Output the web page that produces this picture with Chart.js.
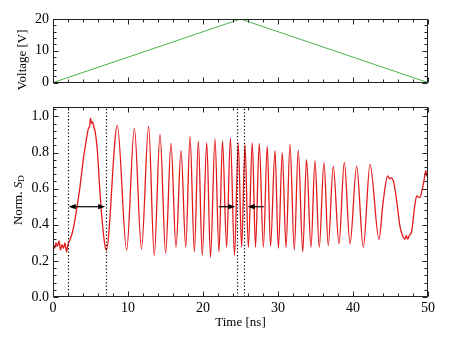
<!DOCTYPE html>
<html>
<head>
<meta charset="utf-8">
<script src="https://cdn.jsdelivr.net/npm/chart.js@4.4.1/dist/chart.umd.min.js"></script>
<style>
  body { margin: 0; background: #fff; }
  #wrap { position: relative; width: 450px; height: 346px; }
  canvas { position: absolute; left: 0; }
  #top { top: 0; }
  #bottom { top: 95px; }
</style>
</head>
<body>
<div id="wrap">
  <canvas id="top" width="450" height="95"></canvas>
  <canvas id="bottom" width="450" height="251"></canvas>
</div>
<script>
// voltage ramp (top panel)
const rampTime = [0, 25, 50];
const rampVolt = [0, 20, 0];

// detector signal: extrema plus some of the noise
const sigTime = [
  0, 0.2, 0.4, 0.6, 0.8, 1.0, 1.2, 1.4, 1.6, 1.8, 2.0,
  2.3, 2.6, 2.9, 3.2, 3.5, 3.8, 4.1, 4.4, 4.7, 4.9, 5.0, 5.15, 5.3, 5.45, 5.6,
  5.9, 6.2, 6.4, 6.7, 6.95, 7.1,
  8.58, 9.82, 10.85, 11.8, 12.75, 13.5, 14.27, 15.02, 15.73, 16.4,
  17.07, 17.7, 18.27, 18.85, 19.38, 19.9, 20.5, 21.0, 21.6, 22.13,
  22.6, 23.15, 23.65, 24.2, 24.7, 25.15, 25.6, 26.05, 26.57, 27.0,
  27.5, 28.05, 28.57, 29.0, 29.6, 30.05, 30.57, 31.07, 31.6, 32.17,
  32.7, 33.3, 33.8, 34.4, 34.93, 35.5, 36.13, 36.7, 37.37, 38.13,
  38.84, 39.6, 40.49, 41.37, 42.27, 43.47,
  44.0, 44.62, 44.9, 45.1, 45.4, 45.8, 46.27, 46.6, 46.93, 47.1, 47.3, 47.5,
  47.8, 48.27, 48.5, 48.9, 49.2, 49.45, 49.7, 49.85, 50
];
const sigValue = [
  0.30, 0.27, 0.30, 0.28, 0.31, 0.26, 0.29, 0.27, 0.30, 0.25, 0.29,
  0.32, 0.36, 0.42, 0.50, 0.58, 0.68, 0.78, 0.86, 0.93, 0.95, 0.99, 0.96, 0.97, 0.94, 0.92,
  0.82, 0.62, 0.50, 0.36, 0.28, 0.26,
  0.95, 0.26, 0.935, 0.265, 0.945, 0.23, 0.90, 0.24, 0.85, 0.275,
  0.81, 0.275, 0.89, 0.25, 0.865, 0.23, 0.855, 0.22, 0.875, 0.25,
  0.865, 0.275, 0.88, 0.23, 0.855, 0.275, 0.845, 0.275, 0.855, 0.275,
  0.85, 0.275, 0.835, 0.28, 0.81, 0.27, 0.80, 0.275, 0.845, 0.26,
  0.815, 0.25, 0.76, 0.275, 0.755, 0.275, 0.745, 0.285, 0.725, 0.295,
  0.745, 0.295, 0.725, 0.275, 0.735, 0.32,
  0.52, 0.67, 0.655, 0.66, 0.64, 0.54, 0.39, 0.34, 0.32, 0.34, 0.32, 0.34,
  0.36, 0.515, 0.56, 0.55, 0.59, 0.64, 0.70, 0.67, 0.67
];

// dotted markers and arrows at S_D = 0.5
const markerTimes = [2, 7, 24.5, 25.5];
const arrowLevel = 0.5;
const arrowTails = [4.5, 4.5, 22.1, 28.1];
const arrowTips = [2.1, 6.95, 24.3, 25.95];

const FAMILY = "'Liberation Serif', 'Times New Roman', serif";
Chart.defaults.font.family = FAMILY;
Chart.defaults.font.size = 13;
Chart.defaults.color = '#000';

const frameTicks = {
  id: 'frameTicks',
  afterDraw(chart, args, opts) {
    const ctx = chart.ctx;
    const a = chart.chartArea;
    const xs = chart.scales.x, ys = chart.scales.y;
    const L = Math.round(a.left) + 0.5, R = Math.round(a.right) - 0.5;
    const T = Math.round(a.top) + 0.5, B = Math.round(a.bottom) - 0.5;
    ctx.save();
    ctx.strokeStyle = '#222';
    ctx.lineWidth = 1;
    ctx.beginPath();
    for (let k = 0; k * opts.xMinor <= xs.max + 1e-9; k++) {
      const v = k * opts.xMinor;
      const len = Math.abs(v / opts.xMajor - Math.round(v / opts.xMajor)) < 1e-6 ? 5 : 3;
      const px = Math.round(xs.getPixelForValue(v)) + 0.5;
      ctx.moveTo(px, B); ctx.lineTo(px, B - len);
      ctx.moveTo(px, T); ctx.lineTo(px, T + len);
    }
    for (let k = 0; k * opts.yMinor <= ys.max + 1e-9; k++) {
      const v = k * opts.yMinor;
      const len = Math.abs(v / opts.yMajor - Math.round(v / opts.yMajor)) < 1e-6 ? 5 : 3;
      const py = Math.round(ys.getPixelForValue(v)) + 0.5;
      ctx.moveTo(L, py); ctx.lineTo(L + len, py);
      ctx.moveTo(R, py); ctx.lineTo(R - len, py);
    }
    ctx.stroke();
    ctx.strokeRect(L, T, R - L, B - T);
    ctx.restore();
  }
};

const markers = {
  id: 'markers',
  afterDatasetsDraw(chart) {
    const ctx = chart.ctx;
    const a = chart.chartArea;
    const xs = chart.scales.x, ys = chart.scales.y;
    ctx.save();
    ctx.strokeStyle = '#000';
    ctx.lineWidth = 1.2;
    ctx.setLineDash([1.2, 2.2]);
    markerTimes.forEach(t => {
      const px = Math.round(xs.getPixelForValue(t)) + 0.5;
      ctx.beginPath();
      ctx.moveTo(px, a.bottom);
      ctx.lineTo(px, a.top);
      ctx.stroke();
    });
    ctx.setLineDash([]);
    ctx.fillStyle = '#000';
    const py = ys.getPixelForValue(arrowLevel);
    arrowTails.forEach((tail, i) => {
      const x0 = xs.getPixelForValue(tail);
      const x1 = xs.getPixelForValue(arrowTips[i]);
      const dir = Math.sign(x1 - x0);
      ctx.beginPath();
      ctx.moveTo(x0, py);
      ctx.lineTo(x1 - dir * 4, py);
      ctx.stroke();
      ctx.beginPath();
      ctx.moveTo(x1, py);
      ctx.lineTo(x1 - dir * 7, py - 2.6);
      ctx.lineTo(x1 - dir * 7, py + 2.6);
      ctx.closePath();
      ctx.fill();
    });
    ctx.restore();
  }
};

// rotated y-axis title made of several runs (for italic S and subscript D)
function yTitle(parts, dx, dy) {
  return {
    id: 'yTitle',
    afterDraw(chart) {
      const ctx = chart.ctx;
      const a = chart.chartArea;
      ctx.save();
      ctx.translate(a.left - dx, (a.top + a.bottom) / 2 + dy);
      ctx.rotate(-Math.PI / 2);
      ctx.fillStyle = '#000';
      ctx.textBaseline = 'middle';
      const widths = parts.map(p => { ctx.font = p[1] + ' ' + FAMILY; return ctx.measureText(p[0]).width; });
      let x = -widths.reduce((s, w) => s + w, 0) / 2;
      parts.forEach((p, i) => {
        ctx.font = p[1] + ' ' + FAMILY;
        ctx.fillText(p[0], x, p[2] || 0);
        x += widths[i];
      });
      ctx.restore();
    }
  };
}

function fixWidth(w) { return s => { s.width = w; }; }
function fixHeight(h) { return s => { s.height = h; }; }

new Chart(document.getElementById('top'), {
  type: 'line',
  data: {
    datasets: [{
      data: rampTime.map((t, i) => ({ x: t, y: rampVolt[i] })),
      borderColor: '#4daf4a',
      borderWidth: 1,
      pointRadius: 0
    }]
  },
  options: {
    responsive: false,
    animation: false,
    layout: { padding: { top: 19, right: 22, left: 0, bottom: 0 } },
    plugins: {
      legend: { display: false },
      tooltip: { enabled: false },
      frameTicks: { xMinor: 2, xMajor: 10, yMinor: 2, yMajor: 10 }
    },
    scales: {
      x: {
        type: 'linear', min: 0, max: 50,
        grid: { display: false, drawTicks: false },
        border: { display: false },
        ticks: { display: false },
        afterFit: fixHeight(12)
      },
      y: {
        min: 0, max: 20,
        grid: { display: false, drawTicks: false },
        border: { display: false },
        ticks: { stepSize: 10, padding: 4, font: { size: 14 } },
        afterFit: fixWidth(53)
      }
    }
  },
  plugins: [frameTicks, yTitle([['Voltage [V]', '13px']], 30, 9)]
});

new Chart(document.getElementById('bottom'), {
  type: 'line',
  data: {
    datasets: [{
      data: sigTime.map((t, i) => ({ x: t, y: sigValue[i] })),
      borderColor: '#e41a1c',
      borderWidth: 1.3,
      pointRadius: 0,
      cubicInterpolationMode: 'monotone'
    }]
  },
  options: {
    responsive: false,
    animation: false,
    layout: { padding: { top: 10, right: 22, left: 0, bottom: 0 } },
    plugins: {
      legend: { display: false },
      tooltip: { enabled: false },
      frameTicks: { xMinor: 2, xMajor: 10, yMinor: 0.04, yMajor: 0.2 }
    },
    scales: {
      x: {
        type: 'linear', min: 0, max: 50,
        grid: { display: false, drawTicks: false },
        border: { display: false },
        ticks: { stepSize: 10, padding: 3, font: { size: 14 } },
        title: { display: true, text: 'Time [ns]', padding: { top: 0, bottom: 16 } },
        afterFit: fixHeight(49)
      },
      y: {
        min: 0, max: 1.05,
        grid: { display: false, drawTicks: false },
        border: { display: false },
        ticks: { stepSize: 0.2, padding: 4, includeBounds: false, font: { size: 14 }, callback: v => v.toFixed(1) },
        afterFit: fixWidth(53)
      }
    }
  },
  plugins: [frameTicks, markers, yTitle([['Norm. ', '13px'], ['S', 'italic 13px'], ['D', '9px', 3]], 34, -2)]
});
</script>
</body>
</html>
